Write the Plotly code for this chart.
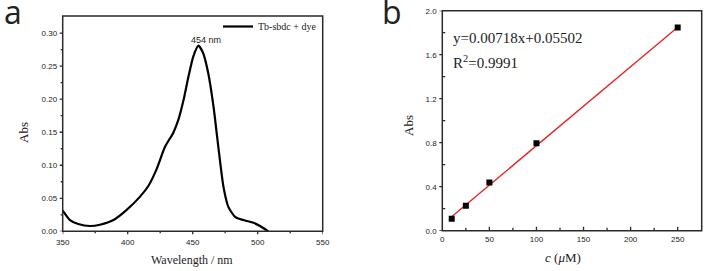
import plotly.graph_objects as go

# ---------------- data ----------------
wavelength = [350, 355.6, 362, 371, 378.7, 389, 399, 409.5, 416, 422, 428.7, 435, 439, 443,
              446.7, 450.5, 454.4, 458, 462, 466, 469.7, 473.6, 477.4, 482.6, 489, 496.7,
              501.8, 508.2]
absorbance = [0.0313, 0.017, 0.011, 0.008, 0.010, 0.017, 0.032, 0.0525, 0.069, 0.093, 0.128,
              0.149, 0.169, 0.199, 0.234, 0.265, 0.281, 0.270, 0.239, 0.189, 0.128, 0.068,
              0.037, 0.022, 0.017, 0.013, 0.008, 0.0]
series_a_name = "Tb-sbdc + dye"
peak_label = "454 nm"
peak_pos = [460, 0.289]

conc = [10, 25, 50, 100, 250]
abs_b = [0.109, 0.227, 0.439, 0.794, 1.848]
fit_slope = 0.00718
fit_intercept = 0.05502
fit_x = [8, 250]
fit_y = [fit_slope * v + fit_intercept for v in fit_x]
eq_text = "y=0.00718x+0.05502"
r2_text = "R<sup>2</sup>=0.9991"

xticks_a = [350, 400, 450, 500, 550]
xminor_a = [375, 425, 475, 525]
yticks_a = [0.00, 0.05, 0.10, 0.15, 0.20, 0.25, 0.30]
yminor_a = [0.025, 0.075, 0.125, 0.175, 0.225, 0.275]
xticks_b = [0, 50, 100, 150, 200, 250]
xminor_b = [25, 75, 125, 175, 225]
yticks_b = [0.0, 0.4, 0.8, 1.2, 1.6, 2.0]
yminor_b = [0.2, 0.6, 1.0, 1.4, 1.8]

W, H = 705, 271
def px(x):
    return x / W
def py(y):
    return (H - y) / H

SERIF = "Liberation Serif, Times New Roman, serif"
SANS = "Liberation Sans, Arial, sans-serif"
FRAME = "#2a2a2a"
TXT = "#222"

fig = go.Figure()
fig.add_trace(go.Scatter(x=wavelength, y=absorbance, mode="lines", name=series_a_name,
                         line=dict(color="black", width=2.2, shape="spline", smoothing=0.6),
                         xaxis="x", yaxis="y", showlegend=True))
fig.add_trace(go.Scatter(x=fit_x, y=fit_y, mode="lines", line=dict(color="#e8262a", width=1.4),
                         xaxis="x2", yaxis="y2", showlegend=False))
fig.add_trace(go.Scatter(x=conc, y=abs_b, mode="markers",
                         marker=dict(symbol="square", size=6, color="black"),
                         xaxis="x2", yaxis="y2", showlegend=False))

tickfont = dict(family=SANS, size=8, color=TXT)
common = dict(showgrid=False, zeroline=False, showline=False, tickfont=tickfont,
              ticklen=3, tickwidth=1, tickcolor="rgba(0,0,0,0)", automargin=False)

fig.update_layout(
    width=W, height=H, margin=dict(l=0, r=0, t=0, b=0, autoexpand=False),
    paper_bgcolor="white", plot_bgcolor="white",
    xaxis=dict(domain=[px(62.7), px(322.7)], range=[350, 550], tickvals=xticks_a,
               ticks="outside", anchor="y", **common),
    yaxis=dict(domain=[py(231.3), py(16)], range=[0, 0.326], tickvals=yticks_a,
               ticktext=[f"{v:.2f}" for v in yticks_a], ticks="outside", anchor="x", **common),
    xaxis2=dict(domain=[px(442.3), px(701.7)], range=[0, 275.5], tickvals=xticks_b,
                ticks="", anchor="y2", ticklabelstandoff=2, **common),
    yaxis2=dict(domain=[py(230.7), py(10.7)], range=[0, 2.0], tickvals=yticks_b,
                ticktext=[f"{v:.1f}" for v in yticks_b], ticks="outside", anchor="x2", **common),
    legend=dict(x=px(322), y=py(12), xanchor="right", yanchor="top",
                bgcolor="rgba(0,0,0,0)", font=dict(family=SERIF, size=10, color=TXT)),
    showlegend=True,
)

# frame boxes around both plot areas (layout decoration)
for xr, yr in (("x domain", "y domain"), ("x2 domain", "y2 domain")):
    fig.add_shape(type="rect", xref=xr, yref=yr, x0=0, x1=1, y0=0, y1=1,
                  line=dict(color=FRAME, width=1.5), fillcolor="rgba(0,0,0,0)", layer="above")

# tick marks drawn as pixel-sized shapes at the tick values
def xtick(axis, yaxis, vals, length):
    for v in vals:
        fig.add_shape(type="line", xref=axis, yref=yaxis + " domain", x0=v, x1=v,
                      ysizemode="pixel", yanchor=0, y0=0, y1=length,
                      line=dict(color=FRAME, width=1.3), layer="above")

def ytick(axis, xaxis, vals, length):
    for v in vals:
        fig.add_shape(type="line", yref=axis, xref=xaxis + " domain", y0=v, y1=v,
                      xsizemode="pixel", xanchor=0, x0=0, x1=length,
                      line=dict(color=FRAME, width=1.3), layer="above")

xtick("x", "y", xticks_a, -3)
xtick("x", "y", xminor_a, -2)
ytick("y", "x", yticks_a, -3)
ytick("y", "x", yminor_a, -2)
xtick("x2", "y2", xticks_b, 4)
xtick("x2", "y2", xminor_b, 3)
ytick("y2", "x2", yticks_b, -3)
ytick("y2", "x2", yminor_b, 3)

def note(x, y, text, size, family=SERIF, angle=0, xanchor="center", xref="paper", yref="paper"):
    return dict(x=x, y=y, xref=xref, yref=yref, text=text, textangle=angle, showarrow=False,
                xanchor=xanchor, yanchor="middle", font=dict(family=family, size=size, color=TXT))

ann = [
    note(peak_pos[0], peak_pos[1], peak_label, 9, family=SANS, xref="x", yref="y"),
    note(px(13), py(11), "a", 32, family="Open Sans, sans-serif"),
    note(px(392), py(11), "b", 32, family="Open Sans, sans-serif"),
    note(px(23), py(133), "Abs", 13, angle=-90),
    note(px(192), py(260), "Wavelength / nm", 12),
    note(px(409), py(125), "Abs", 13, angle=-90),
    note(px(563), py(257), "<i>c</i> (<i>μ</i>M)", 13),
    note(px(451), py(38), eq_text, 15, xanchor="left"),
    note(px(451), py(62), r2_text, 15, xanchor="left"),
]
fig.update_layout(annotations=ann)

fig.write_html("out.html", config={"displayModeBar": False},
               post_script="document.body.style.margin='0px';")
